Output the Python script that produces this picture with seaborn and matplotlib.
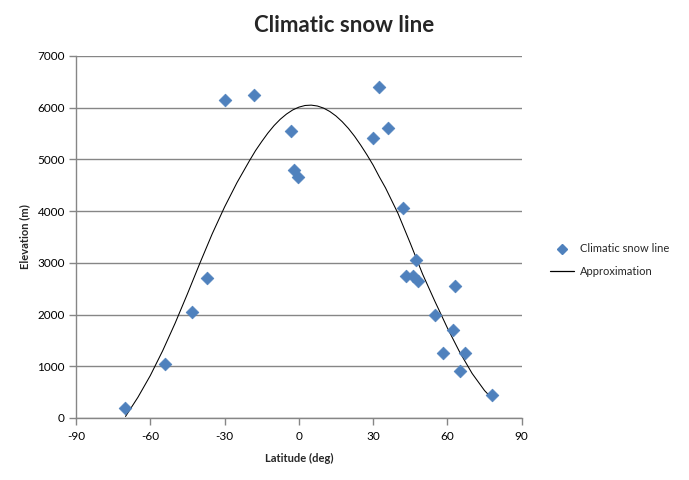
import numpy as np
import pandas as pd
import seaborn as sns
import matplotlib.pyplot as plt
from matplotlib.lines import Line2D

sns.set_style('white')
plt.rcParams['font.family'] = ['Lato', 'DejaVu Sans']
plt.rcParams['axes.unicode_minus'] = False

# observed snow line points (latitude, elevation)
latitude = [-70.2, -54.0, -43.1, -37.0, -29.7, -18.0, -3.0, -1.8, -0.2,
            32.2, 30.1, 36.2, 41.9, 43.1, 46.1, 47.4, 48.2, 54.9, 63.0,
            62.2, 58.2, 67.1, 65.0, 78.2]
elevation = [200, 1050, 2050, 2700, 6150, 6250, 5550, 4800, 4660,
             6400, 5410, 5600, 4060, 2750, 2750, 3050, 2650, 2000, 2550,
             1700, 1250, 1250, 900, 450]

# approximation curve
approx_lat = [-70, -65, -60, -55, -50, -45, -40, -35, -30, -25, -22.5, -20,
              -17.5, -15, -12.5, -10, -7.5, -5, -2.5, 0, 2.5, 5, 7.5, 10,
              12.5, 15, 17.5, 20, 22.5, 25, 27.5, 30, 32.5, 35, 40, 45, 50,
              55, 60, 65, 70, 75, 78]
approx_elev = [30, 400, 820, 1300, 1830, 2400, 2990, 3560, 4080, 4550, 4760,
               4970, 5170, 5345, 5510, 5655, 5777, 5877, 5956, 6011, 6043,
               6050, 6033, 5992, 5927, 5840, 5730, 5600, 5448, 5275, 5089,
               4890, 4663, 4450, 3960, 3380, 2780, 2250, 1740, 1270, 860,
               530, 380]

points = pd.DataFrame({'lat': latitude, 'elev': elevation})
curve = pd.DataFrame({'lat': approx_lat, 'elev': approx_elev})

blue = '#4F81BD'
grey = '#868686'

fig = plt.figure(figsize=(6.89, 4.80), dpi=100)
ax = fig.add_axes([76 / 689, 1 - 418 / 480, 445.7 / 689, 362 / 480])

sns.lineplot(data=curve, x='lat', y='elev', ax=ax, color='black',
             linewidth=0.75, sort=False, zorder=2)
sns.scatterplot(data=points, x='lat', y='elev', ax=ax, marker='D', s=42,
                color=blue, edgecolor=blue, linewidth=0.5, zorder=3)

ax.set_xlim(-90, 90)
ax.set_ylim(0, 7000)
ax.set_xticks(range(-90, 91, 30))
ax.set_yticks(range(0, 7001, 1000))
ax.yaxis.grid(True, color=grey, linewidth=1.0)
ax.set_axisbelow(True)

for side in ['top', 'right']:
    ax.spines[side].set_visible(False)
for side in ['left', 'bottom']:
    ax.spines[side].set_color(grey)
    ax.spines[side].set_linewidth(1.0)

ax.tick_params(axis='both', direction='out', length=5, width=1,
               color=grey, labelsize=8.5, labelcolor='black', pad=3)
ax.tick_params(axis='x', bottom=True, pad=4)
ax.tick_params(axis='y', left=True)

ax.set_xlabel('Latitude (deg)', fontsize=8, fontweight='bold', labelpad=8)
ax.set_ylabel('Elevation (m)', fontsize=8, fontweight='bold', labelpad=5)

fig.text(0.5, 1 - 25 / 480, 'Climatic snow line', ha='center', va='center',
         fontsize=16, fontweight='bold')

handles = [
    Line2D([], [], marker='D', linestyle='none', color=blue, markersize=5),
    Line2D([], [], color='black', linewidth=0.9),
]
fig.legend(handles, ['Climatic snow line', 'Approximation'],
           loc='center left', bbox_to_anchor=(540 / 689, 1 - 260 / 480),
           frameon=False, fontsize=8, handlelength=2.2, labelspacing=1.0,
           handletextpad=0.5)

fig.savefig('out.png', dpi=100)
